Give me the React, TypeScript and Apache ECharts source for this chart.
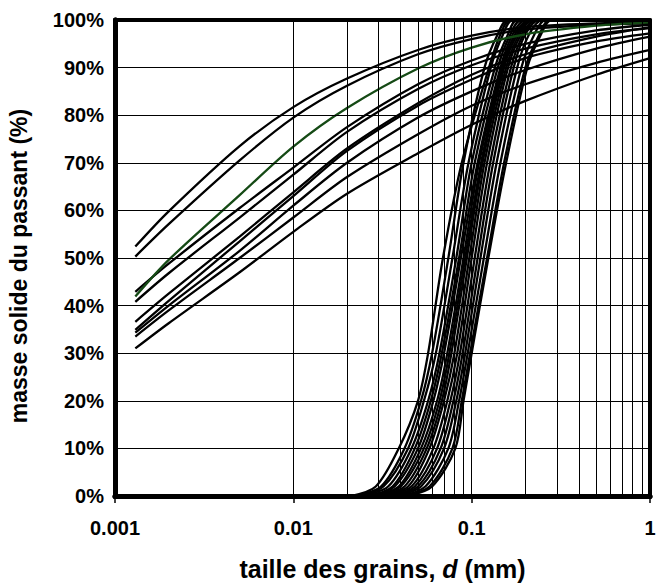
import React, { useEffect, useRef } from "react";
import * as echarts from "echarts";

// grain sizes (mm) at which the fine-soil curves were read
const fineD = [0.0013, 0.002, 0.005, 0.01, 0.02, 0.05, 0.1, 0.2, 0.5, 1];
// passing (%) for each fine-soil curve
const fine1 = [52.4, 59.8, 73.5, 81.7, 87.7, 93.7, 96.7, 98.5, 99.3, 99.5];
const fine2 = [50.3, 57.1, 70.5, 79.5, 86.2, 92.8, 96.0, 98.0, 99.0, 99.3];
const fineGreen = [41.9, 49.6, 63.2, 73.4, 81.5, 89.8, 94.2, 97.0, 98.8, 99.5];
const fine4 = [42.9, 48.8, 60.5, 69.0, 77.5, 86.5, 91.5, 95.0, 97.8, 99.0];
const fine5 = [40.8, 46.8, 58.5, 67.5, 76.5, 85.5, 90.5, 94.0, 97.0, 98.3];
const fine6 = [36.6, 42.5, 54.5, 63.8, 73.0, 82.5, 88.5, 92.8, 96.5, 98.5];
const fine7 = [34.9, 41.0, 53.5, 63.0, 72.5, 82.0, 87.5, 92.0, 95.5, 97.2];
const fine8 = [34.3, 40.0, 51.5, 61.0, 70.0, 79.5, 85.0, 89.5, 94.0, 96.5];
const fine9 = [33.5, 39.0, 50.0, 58.5, 67.0, 76.0, 82.0, 86.5, 91.0, 93.7];
const fine10 = [31.0, 36.3, 47.0, 55.5, 63.5, 72.0, 78.0, 83.0, 88.5, 92.0];

// passing (%) levels at which the sand curves were read
const sandP = [0, 2, 10, 20, 30, 50, 70, 90, 97, 100, 100];
// grain size (mm) of each sand curve at those levels
const sand1 = [0.021, 0.029, 0.039, 0.05, 0.057, 0.069, 0.088, 0.125, 0.145, 0.165, 1];
const sand2 = [0.022, 0.031, 0.042, 0.052, 0.06, 0.074, 0.09, 0.118, 0.14, 0.16, 1];
const sand3 = [0.023, 0.032, 0.044, 0.054, 0.063, 0.078, 0.096, 0.128, 0.15, 0.17, 1];
const sand4 = [0.024, 0.034, 0.046, 0.057, 0.066, 0.082, 0.1, 0.135, 0.16, 0.18, 1];
const sand5 = [0.026, 0.036, 0.048, 0.059, 0.068, 0.085, 0.104, 0.14, 0.165, 0.19, 1];
const sand6 = [0.027, 0.037, 0.05, 0.061, 0.07, 0.087, 0.108, 0.145, 0.17, 0.2, 1];
const sand7 = [0.028, 0.039, 0.052, 0.064, 0.073, 0.09, 0.11, 0.148, 0.175, 0.21, 1];
const sand8 = [0.029, 0.04, 0.054, 0.066, 0.075, 0.092, 0.113, 0.15, 0.18, 0.21, 1];
const sand9 = [0.03, 0.042, 0.056, 0.068, 0.077, 0.094, 0.115, 0.152, 0.18, 0.22, 1];
const sand10 = [0.031, 0.044, 0.058, 0.07, 0.08, 0.097, 0.118, 0.156, 0.185, 0.22, 1];
const sand11 = [0.033, 0.046, 0.061, 0.073, 0.083, 0.1, 0.122, 0.16, 0.19, 0.23, 1];
const sand12 = [0.035, 0.048, 0.064, 0.076, 0.086, 0.104, 0.127, 0.166, 0.195, 0.23, 1];
const sand13 = [0.036, 0.05, 0.067, 0.079, 0.089, 0.108, 0.132, 0.172, 0.2, 0.24, 1];
const sand14 = [0.038, 0.052, 0.07, 0.082, 0.092, 0.112, 0.138, 0.18, 0.21, 0.25, 1];
const sand15 = [0.04, 0.055, 0.074, 0.085, 0.095, 0.117, 0.145, 0.19, 0.225, 0.26, 1];
const sand16 = [0.042, 0.058, 0.078, 0.088, 0.098, 0.122, 0.152, 0.2, 0.24, 0.275, 1];
const sand17 = [0.044, 0.06, 0.081, 0.09, 0.1, 0.124, 0.156, 0.205, 0.245, 0.28, 1];

// axis ticks
const xTickLabels = ["0.001", "0.01", "0.1", "1"];
const minorGrid = [
  0.002, 0.003, 0.004, 0.005, 0.006, 0.007, 0.008, 0.009,
  0.02, 0.03, 0.04, 0.05, 0.06, 0.07, 0.08, 0.09,
  0.2, 0.3, 0.4, 0.5, 0.6, 0.7, 0.8, 0.9,
];

const fineCurves = [fine1, fine2, fine4, fine5, fine6, fine7, fine8, fine9, fine10];
const sandCurves = [
  sand1, sand2, sand3, sand4, sand5, sand6, sand7, sand8, sand9,
  sand10, sand11, sand12, sand13, sand14, sand15, sand16, sand17,
];

const FONT = "'Liberation Sans', Arial, sans-serif";

export default function App() {
  const ref = useRef<HTMLDivElement>(null);
  useEffect(() => {
    document.body.style.margin = "0";
    if (!ref.current) return;
    const chart = echarts.init(ref.current, null, { renderer: "svg" });

    const lineSeries = (data: number[][], color: string, z = 3) => ({
      type: "line",
      data,
      showSymbol: false,
      symbol: "none",
      smooth: 0.3,
      silent: true,
      z,
      lineStyle: { color, width: 2.3 },
    });

    const series: any[] = [];
    series.push({
      type: "line",
      data: [[0.001, 0]],
      symbol: "none",
      silent: true,
      z: 1,
      lineStyle: { opacity: 0 },
      markLine: {
        silent: true,
        symbol: ["none", "none"],
        label: { show: false },
        lineStyle: { color: "#000", width: 1, type: "solid" },
        data: minorGrid.map((v) => ({ xAxis: v })),
      },
    });
    sandCurves.forEach((c) => {
      series.push(lineSeries(c.map((d, i) => [d, sandP[i]]), "#000"));
    });
    fineCurves.forEach((c) => {
      series.push(lineSeries(c.map((v, i) => [fineD[i], v]), "#000"));
    });
    series.push(lineSeries(fineGreen.map((v, i) => [fineD[i], v]), "#154a15", 4));

    const frameX = (position: string, width: number) => ({
      type: "log",
      logBase: 10,
      min: 0.001,
      max: 1,
      position,
      axisLine: { show: true, onZero: false, lineStyle: { color: "#000", width } },
      axisTick: { show: false },
      axisLabel: { show: false },
      splitLine: { show: false },
      z: 6,
    });
    const frameY = (position: string, width: number) => ({
      type: "value",
      min: 0,
      max: 100,
      interval: 10,
      position,
      axisLine: { show: true, onZero: false, lineStyle: { color: "#000", width } },
      axisTick: { show: false },
      axisLabel: { show: false },
      splitLine: { show: false },
      z: 6,
    });

    chart.setOption({
      animation: false,
      grid: {
        left: 115,
        right: 7,
        top: 20,
        bottom: 87,
        show: false,
        outerBoundsMode: "none",
      },
      xAxis: [
        {
          type: "log",
          logBase: 10,
          min: 0.001,
          max: 1,
          position: "bottom",
          axisLine: { show: true, onZero: false, lineStyle: { color: "#000", width: 5 } },
          axisTick: { show: true, length: 7, lineStyle: { color: "#000", width: 1.5 } },
          axisLabel: {
            showMinLabel: true,
            showMaxLabel: true,
            formatter: (_v: number, i: number) => xTickLabels[i] ?? "",
            fontSize: 20,
            fontWeight: "bold",
            fontFamily: FONT,
            color: "#000",
            margin: 22,
          },
          splitLine: { show: true, lineStyle: { color: "#000", width: 1 } },
          name: "taille des grains, {i|d} (mm)",
          nameLocation: "middle",
          nameGap: 60,
          nameTextStyle: {
            fontSize: 25,
            fontWeight: "bold",
            fontFamily: FONT,
            color: "#000",
            rich: {
              i: { fontSize: 25, fontWeight: "bold", fontStyle: "italic", fontFamily: FONT, color: "#000" },
            },
          },
          z: 5,
        },
        frameX("top", 4),
        frameX("bottom", 5),
      ],
      yAxis: [
        {
          type: "value",
          min: 0,
          max: 100,
          interval: 10,
          position: "left",
          axisLine: { show: true, onZero: false, lineStyle: { color: "#000", width: 5 } },
          axisTick: { show: false },
          axisLabel: {
            formatter: "{value}%",
            fontSize: 20,
            fontWeight: "bold",
            fontFamily: FONT,
            color: "#000",
            margin: 11,
          },
          splitLine: { show: true, lineStyle: { color: "#000", width: 1 } },
          name: "masse solide du passant (%)",
          nameLocation: "middle",
          nameGap: 85,
          nameTextStyle: {
            fontSize: 23,
            fontWeight: "bold",
            fontFamily: FONT,
            color: "#000",
            padding: [0, 16, 0, 0],
          },
          z: 5,
        },
        frameY("right", 4),
        frameY("left", 5),
      ],
      series,
    });
    return () => chart.dispose();
  }, []);
  return <div ref={ref} style={{ width: 657, height: 583 }} />;
}
